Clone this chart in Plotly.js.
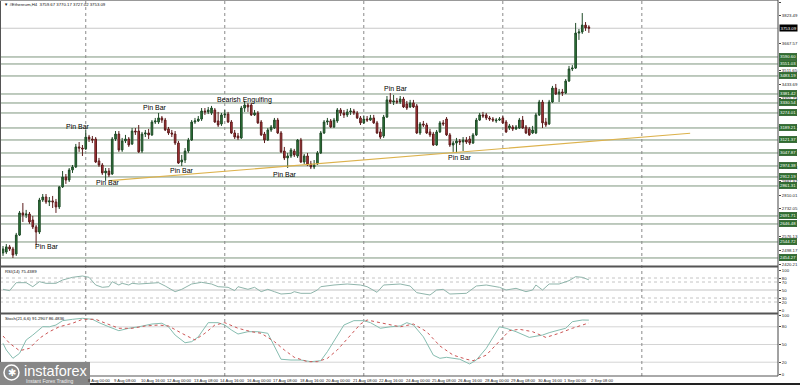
<!DOCTYPE html>
<html><head><meta charset="utf-8">
<script src="https://cdn.plot.ly/plotly-3.0.1.min.js"></script>
<style>html,body{margin:0;padding:0;background:#fff;overflow:hidden}#chart{width:800px;height:385px}</style>
</head><body><div id="chart"></div>
<script>
// ---------- DATA ----------
const open = [2483,2488,2517,2505,2477,2584,2709,2697,2703,2669,
2630,2601,2782,2799,2771,2777,2771,2743,2856,2912,
2895,2952,2969,3082,3076,3071,3138,3127,3127,3003,
2980,2935,2946,2929,3127,3155,3065,3116,3127,3099,
3172,3172,3059,3155,3161,3150,3223,3223,3246,3234,
3184,3161,3155,3104,2997,3008,3059,3121,3223,3229,
3240,3285,3280,3274,3291,3229,3212,3263,3268,3223,
3161,3144,3133,3302,3319,3319,3263,3274,3223,3155,
3121,3178,3189,3234,3161,3059,3020,3031,3059,3031,
3121,2997,3031,2986,2969,2986,3048,3161,3223,3229,
3195,3229,3291,3274,3263,3280,3285,3274,3246,3218,
3240,3234,3246,3218,3167,3144,3251,3348,3336,3342,
3336,3353,3325,3308,3331,3314,3161,3212,3206,3167,
3155,3093,3167,3218,3240,3150,3093,3104,3116,3110,
3121,3127,3104,3150,3234,3263,3263,3246,3240,3229,
3234,3246,3223,3189,3195,3184,3189,3234,3195,3184,
3161,3161,3263,3336,3223,3212,3336,3415,3381,3393,
3387,3455,3523,3528,3726,3732,3771,3760];
const high = [2522,2533,2528,2517,2596,2720,2765,2726,2714,2692,
2641,2794,2816,2816,2799,2805,2788,2861,2946,2929,
2963,2980,3099,3110,3093,3178,3150,3144,3138,3020,
2991,2963,2963,3138,3172,3172,3133,3150,3138,3189,
3189,3206,3167,3178,3184,3234,3246,3274,3257,3246,
3195,3178,3172,3116,3037,3076,3133,3234,3246,3257,
3302,3302,3308,3314,3302,3280,3274,3291,3280,3234,
3178,3161,3314,3342,3331,3331,3291,3285,3234,3167,
3189,3206,3246,3246,3172,3082,3048,3076,3071,3127,
3133,3042,3048,3003,3008,3059,3172,3234,3246,3240,
3246,3302,3302,3291,3297,3302,3297,3285,3257,3257,
3257,3263,3263,3229,3184,3263,3370,3387,3376,3359,
3370,3365,3342,3348,3348,3325,3223,3229,3218,3184,
3167,3178,3229,3234,3251,3161,3116,3133,3127,3138,
3138,3144,3161,3246,3274,3280,3274,3257,3251,3246,
3251,3257,3234,3212,3206,3206,3246,3257,3206,3195,
3201,3274,3348,3348,3246,3348,3427,3438,3410,3410,
3466,3540,3545,3783,3749,3839,3788,3770];
const low = [2466,2477,2494,2454,2466,2579,2658,2680,2647,2618,
2528,2590,2771,2760,2748,2737,2709,2731,2850,2873,
2884,2935,2963,3054,3031,3065,3110,3104,2991,2969,
2924,2890,2912,2924,3116,3054,3054,3104,3082,3093,
3150,3048,3048,3138,3127,3144,3212,3212,3218,3172,
3150,3138,3093,2986,2974,2991,3048,3116,3212,3223,
3229,3263,3268,3263,3218,3195,3201,3246,3218,3155,
3127,3121,3127,3280,3280,3257,3257,3212,3144,3104,
3116,3167,3184,3155,3048,3008,2963,3020,3025,3020,
2991,2986,2974,2957,2957,2980,3042,3155,3206,3189,
3189,3218,3257,3246,3251,3263,3263,3240,3206,3212,
3223,3229,3212,3155,3127,3133,3246,3325,3319,3325,
3325,3302,3291,3302,3302,3155,3150,3195,3155,3138,
3088,3088,3161,3201,3144,3082,3054,3048,3093,3059,
3099,3093,3099,3144,3229,3246,3234,3229,3223,3218,
3229,3212,3161,3178,3172,3178,3184,3184,3155,3144,
3155,3155,3257,3189,3195,3206,3331,3376,3336,3370,
3381,3449,3511,3523,3687,3721,3738,3727];
const close = [2505,2517,2505,2471,2584,2709,2697,2703,2658,2630,
2601,2782,2799,2771,2777,2771,2743,2856,2912,2895,
2952,2969,3082,3076,3071,3138,3127,3121,2997,2980,
2935,2946,2924,3127,3155,3065,3116,3127,3093,3172,
3167,3054,3155,3161,3150,3223,3229,3246,3234,3178,
3161,3155,3104,2991,3008,3059,3121,3223,3229,3240,
3285,3280,3291,3302,3223,3206,3263,3268,3223,3161,
3138,3133,3302,3319,3308,3263,3274,3218,3150,3121,
3178,3195,3234,3161,3054,3020,3031,3065,3037,3121,
2997,3031,2980,2969,2980,3048,3161,3223,3229,3195,
3234,3291,3274,3263,3280,3285,3274,3246,3218,3240,
3234,3246,3218,3161,3138,3251,3348,3336,3342,3336,
3353,3308,3302,3331,3308,3161,3212,3206,3161,3150,
3093,3167,3218,3212,3150,3093,3104,3116,3110,3121,
3110,3104,3150,3234,3263,3257,3246,3240,3234,3234,
3240,3218,3167,3201,3184,3195,3234,3189,3161,3150,
3178,3263,3336,3218,3206,3336,3415,3381,3393,3387,
3455,3523,3528,3726,3732,3771,3755,3753];

const currentPrice = 3753.09;
const levels = [3590.60,3551.03,3483.19,3381.42,3330.54,3274.01,3189.21,3121.37,3047.87,2974.38,2912.19,2861.31,2691.71,2646.48,2544.72,2454.27];
// price-scale labels that are visible (the rest are covered by line tags)
const scaleTicks = [3901.45,3823.49,3667.57,3511.65,3433.69,3355.73,3199.81,2965.93,2887.97,2810.01,2732.05,2576.13,2498.17,2420.21];

const trendBars = [32.3, 207.6];
const trendPrices = [2891.3, 3159.3];

const separatorBars = [25, 67, 109, 151, 193];

const timeBars = [25,33,41,49,57,65,73,81,89,97,105,113,121,129,137,145,153,161,169,177];
const timeLabels = ["8 Aug 00:00","9 Aug 08:00","10 Aug 16:00","12 Aug 00:00","13 Aug 08:00","14 Aug 16:00","16 Aug 00:00","17 Aug 08:00","18 Aug 16:00","20 Aug 00:00","21 Aug 08:00","22 Aug 16:00","24 Aug 00:00","25 Aug 08:00","26 Aug 16:00","28 Aug 00:00","29 Aug 08:00","30 Aug 16:00","1 Sep 00:00","2 Sep 08:00"];

const patternText = ["Pin Bar","Pin Bar","Pin Bar","Pin Bar","Pin Bar","Bearish Engulfing","Pin Bar","Pin Bar","Pin Bar"];
const patternBar = [13.4,22.8,31.6,45.9,54.1,73.1,85.2,118.7,138.1];
const patternPrice = [2516.5,3194.9,2878.3,3302.3,2946.1,3347.5,2923.5,3409.7,3019.6];

const rsiBars = [0,2,4,7,9,11,13,16,18,21,24,26,28,30,32,33,35,36,38,39,41,44,47,49,52,54,57,60,63,65,68,70,71,74,76,78,80,82,84,87,88,90,93,95,96,100,104,108,110,113,115,120,123,125,129,131,133,135,140,143,146,150,152,155,158,160,161,163,165,168,171,173,175,177];
const rsiValues = [51.7,48.3,68.3,68.3,58.3,70.8,66.7,66.7,75.0,81.7,85.0,81.7,62.5,56.7,58.3,70.8,62.5,66.7,62.5,66.7,65.0,66.7,68.3,60.0,45.8,51.7,65.0,69.2,65.0,58.3,56.7,48.3,58.3,51.7,56.7,45.8,51.7,45.8,40.0,41.7,45.8,41.7,41.7,50.0,58.3,62.5,65.0,62.5,58.3,44.2,62.5,65.0,60.0,43.3,37.5,50.0,51.7,40.0,41.7,60.0,62.5,56.7,50.0,54.2,45.8,50.0,62.5,50.0,65.0,65.0,73.3,83.3,81.7,75.4];
const rsiLevels = [80,70,50,30,20];
const rsiTicks = [100,80,70,50,30,20,0];

const stochBars = [0,1,3,5,7,9,12,14,16,18,21,24,27,29,32,35,38,41,45,48,50,52,55,57,59,62,65,67,69,71,74,77,80,82,84,87,90,93,96,98,101,103,106,109,111,114,117,120,122,124,127,130,132,134,138,141,143,146,150,152,155,159,163,165,168,170,172,175,177];
const stochMain = [52,40.7,26.6,35,57.6,66,80.2,80,83,90.4,92.7,94.4,92.7,87,80,73.4,77.5,80,84.7,86,80,66,53,54.8,63,87,87,83,74.6,67.8,71.7,71.7,69,46.3,25,23.7,23.7,20.9,22.5,37.8,66,83,90.4,90.4,87,77.5,80,81.4,87,83,63,32,26.6,28.3,25,17,23.7,43.5,80,77.5,71.7,62,66,70,74.6,77.5,88.6,91.5,91.3];
const signalBars = [0,2,5,8,11,14,17,21,24,28,31,35,39,43,47,50,54,58,61,64,67,71,75,78,82,85,88,92,95,98,101,105,108,110,114,118,120,124,128,132,136,140,142,146,150,153,156,160,164,168,172,177];
const stochSignal = [64.4,52,39.5,43.5,60.5,71.7,80,86,92.7,92.7,86,77.5,77.5,81.4,83,81.4,69,57.6,69,83,87,77.5,71.7,69,54.8,40.7,28.3,20.9,20.9,26.6,40.7,66,84.7,91.5,87,83,80,84.7,71.7,47.5,32,25,22.5,32,54.8,73.4,75.8,71.7,62,69,77.5,86.5];
const stochLevels = [80,50,20];
const stochTicks = [100,80,50,20,0];

const headerText = "#Ethereum,H4  3759.67 3770.17 3727.02 3753.09";
const rsiTitle = "RSI(14) 75.4389";
const stochTitle = "Stoch(21,6,6) 91.2907 86.4836";

// ---------- LAYOUT HELPERS ----------
const W = 800, H = 385;
const px = x => x / W, py = y => 1 - y / H;
const FONT = "Liberation Sans, Arial, sans-serif";
const bars = close.map((_, i) => i);

const traces = [
  {type:'candlestick', x:bars, open:open, high:high, low:low, close:close, xaxis:'x', yaxis:'y',
   increasing:{line:{color:'#1f4a27', width:1}, fillcolor:'#2f7d3c'},
   decreasing:{line:{color:'#5c1c1c', width:1}, fillcolor:'#b8363a'},
   whiskerwidth:0, hoverinfo:'skip', showlegend:false},
  {type:'scatter', mode:'lines', x:trendBars, y:trendPrices, xaxis:'x', yaxis:'y',
   line:{color:'#dcb24c', width:1.2}, hoverinfo:'skip', showlegend:false},
  {type:'scatter', mode:'lines', x:rsiBars, y:rsiValues, xaxis:'x', yaxis:'y2',
   line:{color:'#8fb5ab', width:1}, hoverinfo:'skip', showlegend:false},
  {type:'scatter', mode:'lines', x:stochBars, y:stochMain, xaxis:'x', yaxis:'y3',
   line:{color:'#86bdb0', width:1}, hoverinfo:'skip', showlegend:false},
  {type:'scatter', mode:'lines', x:signalBars, y:stochSignal, xaxis:'x', yaxis:'y3',
   line:{color:'#cc5555', width:1, dash:'dot'}, hoverinfo:'skip', showlegend:false}
];

const shapes = [];
levels.forEach(l => shapes.push({type:'line', xref:'paper', x0:0, x1:px(778), yref:'y', y0:l, y1:l,
  line:{color:'#7d967d', width:1}, layer:'below'}));
shapes.push({type:'line', xref:'paper', x0:0, x1:px(778), yref:'y', y0:currentPrice, y1:currentPrice,
  line:{color:'#c8c8c8', width:1}, layer:'below'});
rsiLevels.forEach(l => shapes.push({type:'line', xref:'paper', x0:0, x1:px(778), yref:'y2', y0:l, y1:l,
  line:{color:'#c4c4c4', width:1, dash: l === 50 ? 'solid' : 'dot'}, layer:'below'}));
stochLevels.forEach(l => shapes.push({type:'line', xref:'paper', x0:0, x1:px(778), yref:'y3', y0:l, y1:l,
  line:{color:'#d4d4d4', width:1}, layer:'below'}));
separatorBars.forEach(b => shapes.push({type:'line', xref:'x', x0:b, x1:b, yref:'paper', y0:py(376), y1:py(1),
  line:{color:'#8a8a8a', width:1, dash:'dot'}, layer:'below'}));
// frame
const frame = (x0,y0,x1,y1,c,w) => shapes.push({type:'line', xref:'paper', yref:'paper', x0:px(x0), x1:px(x1), y0:py(y0), y1:py(y1), line:{color:c, width:w}, layer:'above'});
frame(0.5,0,0.5,376,'#555',1);
frame(0,0.5,778,0.5,'#999',1);
frame(778,0,778,376,'#444',1);
frame(0,266.5,778,266.5,'#555',2);
frame(0,313.5,778,313.5,'#555',2);
frame(0,376,778,376,'#555',1);
frame(0,384,800,384,'#222',2);
// logo
shapes.push({type:'rect', xref:'paper', yref:'paper', x0:0, x1:px(90), y0:py(385), y1:py(362),
  fillcolor:'#878787', line:{width:0}, layer:'above'});
shapes.push({type:'circle', xref:'paper', yref:'paper', x0:px(4), x1:px(19), y0:py(380), y1:py(365),
  line:{color:'#ffffff', width:1.5}, layer:'above'});

const annotations = [];
const txt = (o) => annotations.push(Object.assign({showarrow:false}, o));
txt({xref:'paper', yref:'paper', x:px(2), y:py(4.5), xanchor:'left', yanchor:'middle',
  text:'▼ ' + headerText, font:{family:FONT, size:4.3, color:'#111'}});
txt({xref:'paper', yref:'paper', x:px(3), y:py(271), xanchor:'left', yanchor:'middle',
  text:rsiTitle, font:{family:FONT, size:4.3, color:'#111'}});
txt({xref:'paper', yref:'paper', x:px(3), y:py(318), xanchor:'left', yanchor:'middle',
  text:stochTitle, font:{family:FONT, size:4.3, color:'#111'}});
patternText.forEach((t, i) => txt({xref:'x', yref:'y', x:patternBar[i], y:patternPrice[i],
  xanchor:'center', yanchor:'middle', text:t, font:{family:FONT, size:7, color:'#000000'}}));
levels.forEach(l => txt({xref:'paper', yref:'y', x:px(779), y:l, xanchor:'left', yanchor:'middle',
  text:l.toFixed(2), bgcolor:'#2e6e2e', bordercolor:'#1c4a1c', borderwidth:0.5, borderpad:0.6,
  font:{family:FONT, size:4.3, color:'#ffffff'}}));
txt({xref:'paper', yref:'y', x:px(779), y:currentPrice, xanchor:'left', yanchor:'middle',
  text:currentPrice.toFixed(2), bgcolor:'#000000', borderpad:0.6, font:{family:FONT, size:4.3, color:'#ffffff'}});
timeBars.forEach((b, i) => txt({xref:'x', yref:'paper', x:b, y:py(380.5), xanchor:'left', yanchor:'middle',
  text:timeLabels[i], font:{family:FONT, size:4.1, color:'#222'}}));
txt({xref:'paper', yref:'paper', x:px(22), y:py(370.5), xanchor:'left', yanchor:'middle',
  text:'instaforex', font:{family:FONT, size:14.5, color:'#ffffff'}});
txt({xref:'paper', yref:'paper', x:px(24), y:py(380.5), xanchor:'left', yanchor:'middle',
  text:'Instant Forex Trading', font:{family:FONT, size:5, color:'#f2f2f2'}});
txt({xref:'paper', yref:'paper', x:px(11.5), y:py(372.5), xanchor:'center', yanchor:'middle',
  text:'✱', font:{family:'DejaVu Sans', size:10, color:'#ffffff'}});

const yTick = {side:'right', anchor:'x', showgrid:false, zeroline:false, showline:false,
  ticks:'outside', ticklen:2, tickcolor:'#444', tickfont:{family:FONT, size:4.3, color:'#222'}, fixedrange:true};

const layout = {
  width:W, height:H, margin:{l:0, r:0, t:0, b:0, pad:0},
  paper_bgcolor:'#ffffff', plot_bgcolor:'#ffffff', showlegend:false, boxgap:0.3,
  font:{family:FONT},
  xaxis:{domain:[px(2), px(778)], range:[-0.302, 234.14], anchor:'y3', showgrid:false, zeroline:false,
    showline:false, showticklabels:false, ticks:'', rangeslider:{visible:false}, fixedrange:true},
  yaxis:Object.assign({}, yTick, {domain:[py(266), py(2)], range:[2408.95, 3901.45],
    tickmode:'array', tickvals:scaleTicks, ticktext:scaleTicks.map(v => v.toFixed(2))}),
  yaxis2:Object.assign({}, yTick, {domain:[py(312), py(268)], range:[-5, 105],
    tickmode:'array', tickvals:rsiTicks, ticktext:rsiTicks.map(String)}),
  yaxis3:Object.assign({}, yTick, {domain:[py(376), py(314)], range:[-3.39, 101.69],
    tickmode:'array', tickvals:stochTicks, ticktext:stochTicks.map(String)}),
  shapes:shapes, annotations:annotations
};

Plotly.newPlot('chart', traces, layout, {staticPlot:true, displayModeBar:false});
</script>
</body></html>
